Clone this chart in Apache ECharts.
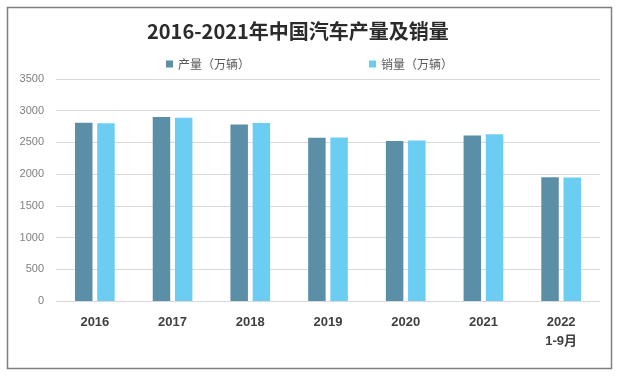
<!DOCTYPE html>
<html>
<head>
<meta charset="utf-8">
<script src="https://cdn.jsdelivr.net/npm/echarts@6/dist/echarts.min.js"></script>
<style>html,body{margin:0;padding:0;background:#fff;}#c{width:631px;height:379px;}</style>
</head>
<body>
<div id="c"></div>
<script>
const categories = ['2016', '2017', '2018', '2019', '2020', '2021', '2022\n1-9月'];
const production = [2812, 2902, 2781, 2572, 2523, 2608, 1950];
const sales = [2803, 2888, 2808, 2577, 2531, 2627, 1947];
const yTicks = { min: 0, max: 3500, interval: 500 };
const seriesNames = ['产量（万辆）', '销量（万辆）'];
const titleText = '2016-2021年中国汽车产量及销量';

const chart = echarts.init(document.getElementById('c'), null, { renderer: 'canvas' });
chart.setOption({
  animation: false,
  backgroundColor: '#ffffff',
  graphic: [{
    type: 'rect',
    shape: { x: 7.5, y: 7.5, width: 604, height: 361 },
    style: { fill: 'none', stroke: '#808080', lineWidth: 1.5 },
    silent: true
  }],
  title: {
    text: titleText,
    left: 147,
    top: 21,
    padding: 0,
    textStyle: {
      fontFamily: "'Noto Sans CJK SC', sans-serif",
      fontSize: 20,
      fontWeight: 'bold',
      color: '#2b2b2b'
    }
  },
  legend: {
    data: seriesNames,
    left: 166,
    top: 58,
    padding: 0,
    icon: 'rect',
    itemWidth: 7,
    itemHeight: 7,
    itemGap: 119,
    textStyle: {
      fontFamily: "'Noto Sans CJK SC', sans-serif",
      fontSize: 12,
      color: '#595959'
    }
  },
  grid: { left: 56, right: 31, top: 79, bottom: 78, containLabel: false },
  xAxis: {
    type: 'category',
    data: categories,
    axisLine: { show: true, lineStyle: { color: '#d9d9d9', width: 1 } },
    axisTick: { show: false },
    axisLabel: {
      margin: 12,
      interval: 0,
      fontFamily: "'Liberation Sans', 'Noto Sans CJK SC', sans-serif",
      fontSize: 13,
      fontWeight: 'bold',
      color: '#404040',
      lineHeight: 19
    }
  },
  yAxis: {
    type: 'value',
    min: yTicks.min,
    max: yTicks.max,
    interval: yTicks.interval,
    axisLine: { show: false },
    axisTick: { show: false },
    splitLine: { lineStyle: { color: '#d9d9d9', width: 1 } },
    axisLabel: {
      margin: 12,
      formatter: function (v) { return String(v); },
      fontFamily: "'Liberation Sans', sans-serif",
      fontSize: 11,
      color: '#7f7f7f'
    }
  },
  series: [
    {
      name: seriesNames[0],
      type: 'bar',
      data: production,
      barWidth: '22.5%',
      barGap: '27%',
      itemStyle: { color: '#5b8fa8' }
    },
    {
      name: seriesNames[1],
      type: 'bar',
      data: sales,
      barWidth: '22.5%',
      itemStyle: { color: '#6ccdf3' }
    }
  ]
});
</script>
</body>
</html>
